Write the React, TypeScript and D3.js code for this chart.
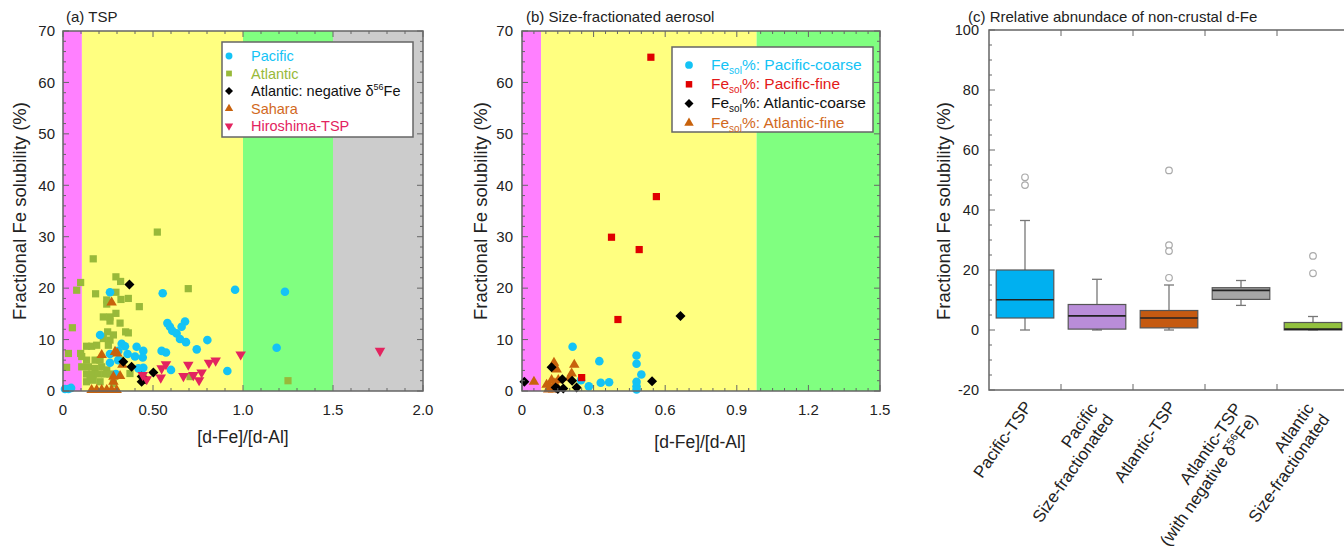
import React from 'react';
import * as d3 from 'd3';

const FONT = "'Liberation Sans', Arial, Helvetica, sans-serif";

// ---------- Panel (a) TSP ----------
const atlanticTSP: [number, number][] = [
  [0.524,30.9],[0.168,25.7],[0.098,21.1],[0.076,19.6],[0.294,22.2],[0.32,21.3],[0.294,19.2],[0.181,18.9],
  [0.243,17.7],[0.243,16.9],[0.322,17.8],[0.363,18.0],[0.424,16.4],[0.696,19.9],[0.224,14.4],[0.261,14.4],
  [0.294,15.1],[0.317,13.2],[0.261,13.6],[0.248,11.5],[0.28,10.9],[0.348,11.5],[0.363,11.3],[0.052,12.3],
  [0.224,10.2],[0.261,9.9],[0.131,8.7],[0.159,8.7],[0.187,8.9],[0.252,8.9],[0.03,7.3],[0.098,7.3],
  [0.131,6.0],[0.178,6.0],[0.206,6.0],[0.02,4.6],[0.104,4.7],[0.141,4.7],[0.178,4.4],[0.215,4.7],
  [0.243,4.1],[0.131,3.3],[0.159,3.3],[0.196,3.3],[0.233,3.3],[0.261,3.3],[0.168,2.1],[0.206,1.8],
  [0.28,1.5],[0.372,3.4],[0.706,2.8],[1.25,2.0],[0.32,6.0],[0.15,2.8],[0.104,6.7],[0.131,1.8]
];
const pacificTSP: [number, number][] = [
  [0.261,19.2],[0.554,19.0],[0.956,19.7],[1.233,19.3],[1.187,8.4],[0.206,10.9],[0.58,13.2],[0.594,12.5],
  [0.607,11.7],[0.631,11.2],[0.678,13.5],[0.659,12.5],[0.65,10.1],[0.683,9.5],[0.802,9.9],[0.326,9.2],
  [0.344,8.7],[0.409,8.6],[0.446,7.8],[0.548,7.8],[0.572,7.5],[0.743,8.1],[0.261,7.2],[0.307,7.8],
  [0.359,7.2],[0.4,6.7],[0.443,6.5],[0.446,4.5],[0.261,5.5],[0.307,6.0],[0.6,4.1],[0.913,3.9],
  [0.294,3.3],[0.419,4.4],[0.011,0.4],[0.03,0.4],[0.045,0.6]
];
const atlanticNegTSP: [number, number][] = [
  [0.369,20.7],[0.335,5.7],[0.381,4.7],[0.502,3.6],[0.437,2.8],[0.456,2.3],[0.437,1.8]
];
const saharaTSP: [number, number][] = [
  [0.27,17.2],[0.215,7.0],[0.289,7.6],[0.302,7.3],[0.33,5.1],[0.28,2.8],[0.317,2.9],[0.28,1.8],
  [0.159,0.2],[0.187,0.2],[0.215,0.2],[0.243,0.2],[0.27,0.2],[0.298,0.2]
];
const hiroshimaTSP: [number, number][] = [
  [0.987,7.1],[0.572,5.2],[0.548,4.4],[0.696,5.1],[0.811,5.5],[0.848,5.9],[0.669,2.9],[0.724,3.1],
  [0.77,3.6],[0.756,2.1],[0.443,3.1],[0.465,2.3],[0.543,2.6],[1.761,7.8]
];
const bgBoundsA = [0, 0.105, 1.0, 1.5, 2.0];
const xTicksA = [0, 0.5, 1.0, 1.5, 2.0];
const xTickLabelsA = ['0', '0.50', '1.0', '1.5', '2.0'];
const yTicksAB = [0, 10, 20, 30, 40, 50, 60, 70];

// ---------- Panel (b) Size-fractionated ----------
const pacificCoarse: [number, number][] = [
  [0.212,8.6],[0.324,5.8],[0.48,6.9],[0.48,5.3],[0.5,3.2],[0.48,1.8],[0.48,0.9],[0.48,0.3],
  [0.365,1.7],[0.33,1.6],[0.28,0.9],[0.247,2.1]
];
const pacificFine: [number, number][] = [
  [0.54,64.9],[0.563,37.8],[0.375,29.9],[0.491,27.5],[0.402,13.9],[0.25,2.6]
];
const atlanticCoarse: [number, number][] = [
  [0.664,14.6],[0.01,1.8],[0.124,4.6],[0.169,2.3],[0.141,0.7],[0.173,0.5],[0.229,0.7],[0.545,1.9],
  [0.15,0.4],[0.21,2.0]
];
const atlanticFine: [number, number][] = [
  [0.05,1.8],[0.134,5.5],[0.145,4.2],[0.219,5.1],[0.208,3.4],[0.124,2.1],[0.103,1.2],[0.117,0.8],
  [0.2,2.6],[0.138,1.5],[0.152,2.1],[0.11,0.3],[0.13,0.3]
];
const bgBoundsB = [0, 0.08, 0.983, 1.5];
const xTicksB = [0, 0.3, 0.6, 0.9, 1.2, 1.5];
const xTickLabelsB = ['0', '0.3', '0.6', '0.9', '1.2', '1.5'];

// ---------- Panel (c) box plots ----------
const boxCategories = ['Pacific-TSP', 'Pacific SF', 'Atlantic-TSP', 'Atlantic-TSP neg', 'Atlantic SF'];
const boxWhiskerLow = [0, 0, 0, 8.2, 0];
const boxQ1 = [4, 0.3, 0.7, 10.2, 0];
const boxMedian = [10.1, 4.7, 4.0, 13.2, 0.3];
const boxQ3 = [20, 8.5, 6.5, 14.1, 2.5];
const boxWhiskerHigh = [36.5, 16.9, 15, 16.5, 4.5];
const boxOutliers: number[][] = [[50.9, 48.3], [], [53.2, 28.3, 26.3, 17.4], [], [24.7, 18.9]];
const boxColors = ['#00b0f0', '#b98dd9', '#c55a11', '#a6a6a6', '#92c13e'];
const yTicksC = [-20, 0, 20, 40, 60, 80, 100];

// ---------- colours ----------
const BG = ['#ff80ff', '#ffff80', '#80ff80', '#cccccc'];
const C_PAC = '#14c3f5';
const C_ATL = '#98b93a';
const C_SAH = '#c8620c';
const C_HIR = '#e3245f';
const C_RED = '#e00000';
const AXIS = '#666';
const TXT = '#222';

const sym = (type: d3.SymbolType, size: number) => d3.symbol().type(type).size(size)() as string;
const P_CIRCLE = sym(d3.symbolCircle, 58);
const P_SQUARE = sym(d3.symbolSquare, 52);
const P_DIAMOND = sym(d3.symbolDiamond2, 64);
const P_TRI = sym(d3.symbolTriangle, 48);

function Marks({ data, x, y, path, color, rotate = 0 }: any) {
  return (
    <g>
      {data.map((d: [number, number], i: number) => (
        <path key={i} d={path} fill={color}
          transform={`translate(${x(d[0])},${y(d[1])}) rotate(${rotate})`} />
      ))}
    </g>
  );
}

function FrameTicks({ x, y, xMinor, xMajor, yMinor, yMajor }: any) {
  const [x0, x1] = x.range();
  const [y0, y1] = y.range();
  const L = 6, l = 3;
  const els: any[] = [];
  xMinor.forEach((v: number, i: number) => {
    const px = x(v);
    const len = xMajor.some((m: number) => Math.abs(m - v) < 1e-9) ? L : l;
    els.push(<line key={'xb' + i} x1={px} x2={px} y1={y0} y2={y0 - len} />);
    els.push(<line key={'xt' + i} x1={px} x2={px} y1={y1} y2={y1 + len} />);
  });
  yMinor.forEach((v: number, i: number) => {
    const py = y(v);
    const len = yMajor.some((m: number) => Math.abs(m - v) < 1e-9) ? L : l;
    els.push(<line key={'yl' + i} x1={x0} x2={x0 + len} y1={py} y2={py} />);
    els.push(<line key={'yr' + i} x1={x1} x2={x1 - len} y1={py} y2={py} />);
  });
  return (
    <g stroke={AXIS} strokeWidth={1}>
      {els}
      <rect x={x0} y={y1} width={x1 - x0} height={y0 - y1} fill="none" stroke={AXIS} strokeWidth={1.5} />
    </g>
  );
}

function Backgrounds({ bounds, x, y }: any) {
  const [y0, y1] = y.range();
  return (
    <g>
      {bounds.slice(0, -1).map((b: number, i: number) => (
        <rect key={i} x={x(b)} y={y1} width={x(bounds[i + 1]) - x(b)} height={y0 - y1} fill={BG[i]} />
      ))}
    </g>
  );
}

function YLabels({ y, ticks, xRight, size = 15 }: any) {
  return (
    <g fontSize={size} fill={TXT} textAnchor="end">
      {ticks.map((t: number) => (
        <text key={t} x={xRight} y={y(t)} dy="0.35em">{t}</text>
      ))}
    </g>
  );
}

function XLabels({ x, ticks, labels, yPos }: any) {
  return (
    <g fontSize={15} fill={TXT} textAnchor="middle">
      {ticks.map((t: number, i: number) => (
        <text key={t} x={x(t)} y={yPos} dy="0.35em">{labels[i]}</text>
      ))}
    </g>
  );
}

export default function App() {
  const xA = d3.scaleLinear().domain([0, 2]).range([63, 423]);
  const yA = d3.scaleLinear().domain([0, 70]).range([391, 31]);
  const xB = d3.scaleLinear().domain([0, 1.5]).range([522, 880]);
  const yB = d3.scaleLinear().domain([0, 70]).range([391, 31]);
  const yC = d3.scaleLinear().domain([-20, 100]).range([390, 30]);
  const xC = d3.scaleBand().domain(boxCategories).range([989, 1349]).paddingInner(0.2).paddingOuter(0.1);
  const step = xC.step();
  const bw = xC.bandwidth();

  const legendA = [
    { label: 'Pacific', color: C_PAC, path: P_CIRCLE, rot: 0, textColor: C_PAC },
    { label: 'Atlantic', color: C_ATL, path: P_SQUARE, rot: 0, textColor: C_ATL },
    { label: 'neg', color: '#000', path: P_DIAMOND, rot: 0, textColor: '#111' },
    { label: 'Sahara', color: C_SAH, path: P_TRI, rot: 0, textColor: '#d2691e' },
    { label: 'Hiroshima-TSP', color: C_HIR, path: P_TRI, rot: 180, textColor: C_HIR },
  ];
  const legendB = [
    { label: 'Pacific-coarse', color: C_PAC, path: P_CIRCLE, textColor: C_PAC },
    { label: 'Pacific-fine', color: C_RED, path: P_SQUARE, textColor: '#e31a1a' },
    { label: 'Atlantic-coarse', color: '#000', path: P_DIAMOND, textColor: '#111' },
    { label: 'Atlantic-fine', color: C_SAH, path: P_TRI, textColor: '#d2691e' },
  ];

  const catLabels: any[] = [
    ['Pacific-TSP'],
    ['Pacific', 'Size-fractionated'],
    ['Atlantic-TSP'],
    ['Atlantic-TSP', 'NEG'],
    ['Atlantic', 'Size-fractionated'],
  ];

  const cTop = yC.range()[1];
  const cBot = yC.range()[0];
  const cLeft = 989;
  const cRight = 1349;

  return (
    <svg width={1344} height={558} style={{ position: 'absolute', left: 0, top: 0, background: '#fff' }}
      fontFamily={FONT}>
      <rect x={0} y={0} width={1344} height={558} fill="#fff" />

      {/* ================= Panel (a) ================= */}
      <Backgrounds bounds={bgBoundsA} x={xA} y={yA} />
      <Marks data={atlanticTSP} x={xA} y={yA} path={P_SQUARE} color={C_ATL} />
      <Marks data={pacificTSP} x={xA} y={yA} path={P_CIRCLE} color={C_PAC} />
      <Marks data={saharaTSP} x={xA} y={yA} path={P_TRI} color={C_SAH} />
      <Marks data={atlanticNegTSP} x={xA} y={yA} path={P_DIAMOND} color="#000" />
      <Marks data={hiroshimaTSP} x={xA} y={yA} path={P_TRI} color={C_HIR} rotate={180} />
      <FrameTicks x={xA} y={yA} xMinor={d3.range(0, 2.0001, 0.1)} xMajor={xTicksA}
        yMinor={d3.range(0, 70.001, 2)} yMajor={yTicksAB} />
      <YLabels y={yA} ticks={yTicksAB} xRight={55} />
      <XLabels x={xA} ticks={xTicksA} labels={xTickLabelsA} yPos={410} />
      <text x={243} y={437} dy="0.35em" textAnchor="middle" fontSize={17.5} fill={TXT}>[d-Fe]/[d-Al]</text>
      <text transform="translate(20,211) rotate(-90)" textAnchor="middle" dy="0.35em" fontSize={18.5} fill={TXT}>
        Fractional Fe solubility (%)</text>
      <text x={66} y={17} dy="0.35em" fontSize={15} fill={TXT}>(a) TSP</text>
      <rect x={222} y={42} width={191} height={95} fill="#fff" stroke={AXIS} strokeWidth={1.5} />
      {legendA.map((e, i) => {
        const ly = 56 + i * 17.5;
        return (
          <g key={i}>
            <path d={e.path} fill={e.color} transform={`translate(229,${ly}) rotate(${e.rot}) scale(0.8)`} />
            <text x={251} y={ly} dy="0.35em" fontSize={14.5} fill={e.textColor}>
              {e.label === 'neg'
                ? <>Atlantic: negative δ<tspan fontSize={9} dy={-6}>56</tspan><tspan dy={6}>Fe</tspan></>
                : e.label}
            </text>
          </g>
        );
      })}

      {/* ================= Panel (b) ================= */}
      <Backgrounds bounds={bgBoundsB} x={xB} y={yB} />
      <Marks data={pacificCoarse} x={xB} y={yB} path={P_CIRCLE} color={C_PAC} />
      <Marks data={atlanticFine} x={xB} y={yB} path={P_TRI} color={C_SAH} />
      <Marks data={pacificFine} x={xB} y={yB} path={P_SQUARE} color={C_RED} />
      <Marks data={atlanticCoarse} x={xB} y={yB} path={P_DIAMOND} color="#000" />
      <FrameTicks x={xB} y={yB} xMinor={d3.range(0, 1.5001, 0.05)} xMajor={xTicksB}
        yMinor={d3.range(0, 70.001, 2)} yMajor={yTicksAB} />
      <YLabels y={yB} ticks={yTicksAB} xRight={513} />
      <XLabels x={xB} ticks={xTicksB} labels={xTickLabelsB} yPos={410} />
      <text x={700} y={442} dy="0.35em" textAnchor="middle" fontSize={17.5} fill={TXT}>[d-Fe]/[d-Al]</text>
      <text transform="translate(481,211) rotate(-90)" textAnchor="middle" dy="0.35em" fontSize={18.5} fill={TXT}>
        Fractional Fe solubility (%)</text>
      <text x={526} y={17} dy="0.35em" fontSize={15} fill={TXT}>(b) Size-fractionated aerosol</text>
      <rect x={672} y={47} width={201} height={85} fill="#fff" stroke={AXIS} strokeWidth={1.5} />
      {legendB.map((e, i) => {
        const ly = 65 + i * 19.3;
        return (
          <g key={i}>
            <path d={e.path} fill={e.color} transform={`translate(689,${ly}) scale(0.9)`} />
            <text x={711} y={ly} dy="0.3em" fontSize={15.5} fill={e.textColor}>
              Fe<tspan fontSize={10} dy={4}>sol</tspan><tspan dy={-4}>%: {e.label}</tspan>
            </text>
          </g>
        );
      })}

      {/* ================= Panel (c) ================= */}
      <g>
        {boxCategories.map((c, i) => {
          const x0 = xC(c) as number;
          const cx = x0 + bw / 2;
          return (
            <g key={c}>
              <line x1={cx} x2={cx} y1={yC(boxWhiskerLow[i])} y2={yC(boxQ1[i])} stroke="#777" strokeWidth={1.3} />
              <line x1={cx} x2={cx} y1={yC(boxQ3[i])} y2={yC(boxWhiskerHigh[i])} stroke="#777" strokeWidth={1.3} />
              <line x1={cx - 5} x2={cx + 5} y1={yC(boxWhiskerLow[i])} y2={yC(boxWhiskerLow[i])} stroke="#777" strokeWidth={1.3} />
              <line x1={cx - 5} x2={cx + 5} y1={yC(boxWhiskerHigh[i])} y2={yC(boxWhiskerHigh[i])} stroke="#777" strokeWidth={1.3} />
              <rect x={x0} y={yC(boxQ3[i])} width={bw} height={yC(boxQ1[i]) - yC(boxQ3[i])}
                fill={boxColors[i]} stroke="#555" strokeWidth={1.2} />
              <line x1={x0} x2={x0 + bw} y1={yC(boxMedian[i])} y2={yC(boxMedian[i])} stroke="#222" strokeWidth={1.6} />
              {boxOutliers[i].map((o, j) => (
                <circle key={j} cx={cx} cy={yC(o)} r={3.3} fill="#fff" stroke="#aaa" strokeWidth={1.2} />
              ))}
            </g>
          );
        })}
      </g>
      <g stroke={AXIS} strokeWidth={1}>
        {d3.range(-20, 100.001, 5).map((v) => {
          const len = v % 20 === 0 ? 6 : 3;
          return <line key={v} x1={cLeft} x2={cLeft + len} y1={yC(v)} y2={yC(v)} />;
        })}
        {boxCategories.slice(1).map((c) => {
          const px = (xC(c) as number) - (step - bw) / 2;
          return (
            <g key={c}>
              <line x1={px} x2={px} y1={cBot} y2={cBot - 6} />
              <line x1={px} x2={px} y1={cTop} y2={cTop + 6} />
            </g>
          );
        })}
        <rect x={cLeft} y={cTop} width={cRight - cLeft} height={cBot - cTop} fill="none" stroke={AXIS} strokeWidth={1.5} />
      </g>
      <YLabels y={yC} ticks={yTicksC} xRight={979} size={14.5} />
      <text transform="translate(944,211) rotate(-90)" textAnchor="middle" dy="0.35em" fontSize={18.5} fill={TXT}>
        Fractional Fe solubility (%)</text>
      <text x={968} y={17} dy="0.35em" fontSize={15} fill={TXT}>(c) Rrelative abnundace of non-crustal d-Fe</text>
      {catLabels.map((lines, i) => {
        const cx = (xC(boxCategories[i]) as number) + bw / 2;
        if (lines.length === 1) {
          return (
            <text key={i} transform={`translate(${cx + 3},${403}) rotate(-55)`} textAnchor="end" dy="0.35em"
              fontSize={17} fill={TXT}>{lines[0]}</text>
          );
        }
        return (
          <g key={i} transform={`translate(${cx + 4},${410}) rotate(-55)`} fontSize={17} fill={TXT} textAnchor="end">
            <text y={-9} dy="0.35em">{lines[0]}</text>
            <text y={10} dy="0.35em">
              {lines[1] === 'NEG'
                ? <>(with negative δ<tspan fontSize={10.5} dy={-6}>56</tspan><tspan dy={6}>Fe)</tspan></>
                : lines[1]}
            </text>
          </g>
        );
      })}
    </svg>
  );
}
